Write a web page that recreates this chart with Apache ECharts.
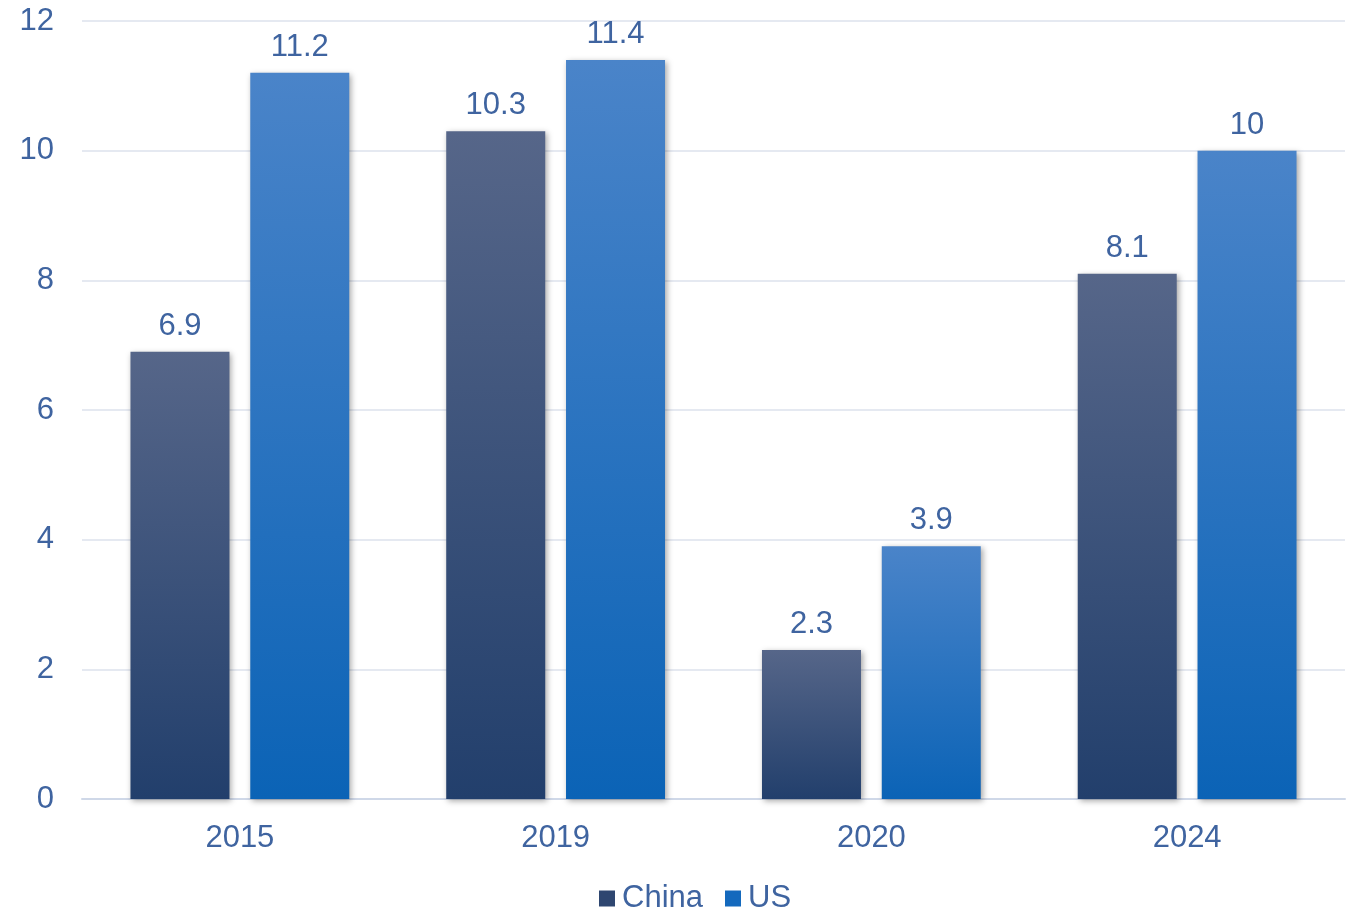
<!DOCTYPE html>
<html>
<head>
<meta charset="utf-8">
<script src="https://cdn.jsdelivr.net/npm/echarts@6/dist/echarts.min.js"></script>
<style>html,body{margin:0;padding:0;background:#fff;}#c{width:1351px;height:911px;}</style>
</head>
<body>
<div id="c"></div>
<script>
const categories = ['2015', '2019', '2020', '2024'];
const chinaValues = [6.9, 10.3, 2.3, 8.1];
const usValues = [11.2, 11.4, 3.9, 10];
const yTicks = { min: 0, max: 12, interval: 2 };

const chart = echarts.init(document.getElementById('c'));
const font = 'Liberation Sans, Arial, sans-serif';
const textColor = '#3F64A0';
function grad(top, bottom) {
  return new echarts.graphic.LinearGradient(0, 0, 0, 1, [
    { offset: 0, color: top }, { offset: 1, color: bottom }
  ]);
}
const shadow = { shadowColor: 'rgba(0,0,0,0.35)', shadowBlur: 6, shadowOffsetX: 2, shadowOffsetY: 2 };
chart.setOption({
  animation: false,
  grid: { left: 82, right: 6, top: 21, bottom: 112 },
  legend: {
    top: 878, left: 594, itemWidth: 16, itemHeight: 16, itemGap: 22,
    textStyle: { color: textColor, fontSize: 31, fontFamily: font, padding: [0, 0, 0, 2] },
    data: [
      { name: 'China', icon: 'rect', itemStyle: { color: '#2E4670' } },
      { name: 'US', icon: 'rect', itemStyle: { color: '#1469BD' } }
    ]
  },
  xAxis: {
    type: 'category', data: categories,
    axisLine: { lineStyle: { color: '#CFD8E8', width: 2 } },
    axisTick: { show: false },
    axisLabel: { color: textColor, fontSize: 31, fontFamily: font, margin: 24 }
  },
  yAxis: {
    type: 'value', min: yTicks.min, max: yTicks.max, interval: yTicks.interval,
    axisLine: { show: false }, axisTick: { show: false },
    splitLine: { lineStyle: { color: '#DCE2EC', width: 1.5 } },
    axisLabel: { color: textColor, fontSize: 31, fontFamily: font, margin: 28 }
  },
  series: [
    {
      name: 'China', type: 'bar', data: chinaValues, barWidth: 99, barGap: '21%',
      itemStyle: Object.assign({ color: grad('#566689', '#223F6C') }, shadow),
      label: { show: true, position: 'top', distance: 10, color: textColor, fontSize: 31, fontFamily: font }
    },
    {
      name: 'US', type: 'bar', data: usValues, barWidth: 99,
      itemStyle: Object.assign({ color: grad('#4A84C9', '#0B63B6') }, shadow),
      label: { show: true, position: 'top', distance: 10, color: textColor, fontSize: 31, fontFamily: font }
    }
  ]
});
</script>
</body>
</html>
